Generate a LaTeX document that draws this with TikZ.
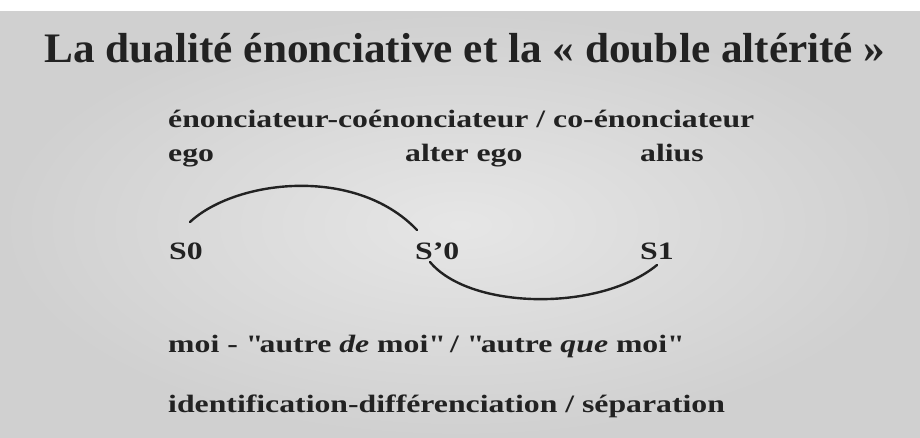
\documentclass[tikz,border=0pt]{standalone}
\usepackage{fontspec}
\setmainfont{Liberation Serif}
\newfontfamily\bodyfont[FakeStretch=1.27]{Liberation Serif}
\newfontfamily\titlefont[FakeStretch=1.03]{Liberation Serif}
\definecolor{ink}{RGB}{34,34,34}
\definecolor{paperin}{RGB}{230,230,230}
\definecolor{paperout}{RGB}{208,208,208}
\begin{document}
\begin{tikzpicture}[x=1pt,y=-1pt,
  body/.style={anchor=base west,inner sep=0pt,text=ink,font=\bodyfont\fontsize{25}{30}\selectfont\bfseries},
  arc/.style={draw=ink,line width=2.4pt,line cap=round}]
\useasboundingbox (0,0) rectangle (920,438);
\fill[white] (0,0) rectangle (920,438);
\shade[inner color=paperin,outer color=paperout] (0,12) rectangle (920,438);
\node[anchor=base,inner sep=0pt,text=ink,font=\titlefont\fontsize{42}{48}\selectfont\bfseries] (title) at (465,63) {La dualité énonciative et la «~double altérité~»};
\node[body] (roles) at (168,128) {énonciateur-coénonciateur / co-énonciateur};
\node[body] (ego) at (168,162) {ego};
\node[body] (alterego) at (405,162) {alter ego};
\node[body] (alius) at (640,162) {alius};
\node[body] (s0) at (169,259) {S0};
\node[body] (sp0) at (415,259) {S’0};
\node[body] (s1) at (640,259) {S1};
\node[body] (moi) at (168,352) {moi - \textquotedbl autre \textit{de} moi\textquotedbl{} / \textquotedbl autre \textit{que} moi\textquotedbl};
\node[body] (ident) at (168,412) {identification-différenciation / séparation};
\coordinate (a1) at (190,222);
\coordinate (a2) at (417,230);
\coordinate (b1) at (430,262);
\coordinate (b2) at (657,265);
\draw[arc] (a1) .. controls (235,180) and (355,165) .. (a2);
\draw[arc] (b1) .. controls (470,310) and (600,312) .. (b2);
\end{tikzpicture}
\end{document}
